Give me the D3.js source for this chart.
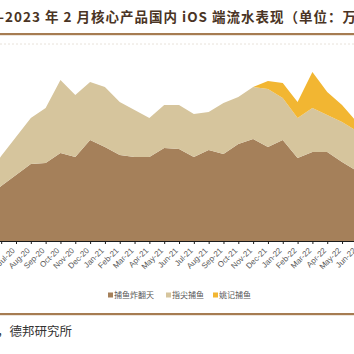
<!DOCTYPE html>
<html><head><meta charset="utf-8">
<script src="https://cdn.jsdelivr.net/npm/d3@7"></script>
<style>html,body{margin:0;padding:0;background:#fff;overflow:hidden}svg{display:block}</style>
</head><body>
<script>
// Months (visible window of the original chart)
const months = ["May-20","Jun-20","Jul-20","Aug-20","Sep-20","Oct-20","Nov-20","Dec-20",
  "Jan-21","Feb-21","Mar-21","Apr-21","May-21","Jun-21","Jul-21","Aug-21","Sep-21","Oct-21","Nov-21","Dec-21",
  "Jan-22","Feb-22","Mar-22","Apr-22","May-22","Jun-22"];
// months whose labels fall outside the visible window
const hiddenLabels = ["May-20","Jun-20"];
// 单位：万元
const buyuZhaFanTian = [430,550,660,770,780,880,840,1010,940,860,840,840,930,920,840,910,870,970,1020,940,1010,830,890,890,790,700];
const zhiJianBuyu    = [200,300,380,460,550,730,620,580,600,530,470,390,430,440,430,380,510,470,520,580,420,400,440,370,400,400];
const yaoJiBuyu      = [0,0,0,0,0,0,0,0,0,0,0,0,0,0,0,0,0,0,0,80,150,160,360,230,170,90];
const seriesNames = ["捕鱼炸翻天","指尖捕鱼","姚记捕鱼"];
const colors = ["#a5805a","#d6c59d","#f2b632"];
const titleText = "-2023 年 2 月核心产品国内 iOS 端流水表现（单位：万元）";
const sourceText = "，德邦研究所";

const W = 354, H = 354;
const svg = d3.select("body").append("svg").attr("width", W).attr("height", H);

// title
svg.append("text").attr("x", -1).attr("y", 22)
  .attr("font-family", "'Noto Sans CJK SC', sans-serif").attr("font-weight", "bold")
  .attr("font-size", 13.5).attr("letter-spacing", 1).attr("fill", "#4a3424").text(titleText);
svg.append("rect").attr("x", 0).attr("y", 33).attr("width", W).attr("height", 2.2).attr("fill", "#a67c52");

const step = 14.82;
const x = d3.scalePoint().domain(months).range([16 - 2 * step, 16 + 23 * step]);
const y = d3.scaleLinear().domain([0, 2000]).range([241, 41]);

const table = months.map((m, i) => ({m, [seriesNames[0]]: buyuZhaFanTian[i], [seriesNames[1]]: zhiJianBuyu[i], [seriesNames[2]]: yaoJiBuyu[i]}));
const stacked = d3.stack().keys(seriesNames)(table);

// faint top gridline
svg.append("line").attr("x1", 0).attr("x2", W).attr("y1", y(1970)).attr("y2", y(1970))
  .attr("stroke", "#e8e2da").attr("stroke-width", 1).attr("stroke-dasharray", "2,2");

const area = d3.area().x(d => x(d.data.m)).y0(d => y(d[0])).y1(d => y(d[1]));
svg.append("g").selectAll("path").data(stacked).join("path")
  .attr("d", area).attr("fill", (d, i) => colors[i]);

// x axis
const ax = svg.append("g").attr("transform", `translate(0,${y(0)})`)
  .call(d3.axisBottom(x).tickSize(3).tickSizeOuter(0)
    .tickFormat(m => hiddenLabels.includes(m) ? "" : m));
ax.select(".domain").attr("stroke", "#1a1a1a").attr("stroke-width", 1.2);
ax.selectAll(".tick line").attr("stroke", "#1a1a1a");
ax.selectAll(".tick text")
  .attr("font-family", "'Liberation Sans', Arial, sans-serif").attr("font-size", 8).attr("fill", "#595959")
  .attr("text-anchor", "end").attr("x", 0).attr("y", 0).attr("dy", "0.35em")
  .attr("transform", "translate(-3,8) rotate(-45)");

// legend
const legendX = [108, 166, 213];
const lg = svg.append("g");
seriesNames.forEach((n, i) => {
  lg.append("rect").attr("x", legendX[i]).attr("y", 292.5).attr("width", 5).attr("height", 5).attr("fill", colors[i]);
  lg.append("text").attr("x", legendX[i] + 6).attr("y", 298)
    .attr("font-family", "'Noto Sans CJK SC', sans-serif").attr("font-size", 8).attr("fill", "#595959").text(n);
});

svg.append("rect").attr("x", 0).attr("y", 313).attr("width", W).attr("height", 2.2).attr("fill", "#a67c52");
svg.append("text").attr("x", -3).attr("y", 336)
  .attr("font-family", "'Noto Sans CJK SC', sans-serif").attr("font-size", 12.5).attr("fill", "#333").text(sourceText);
</script>
</body></html>
